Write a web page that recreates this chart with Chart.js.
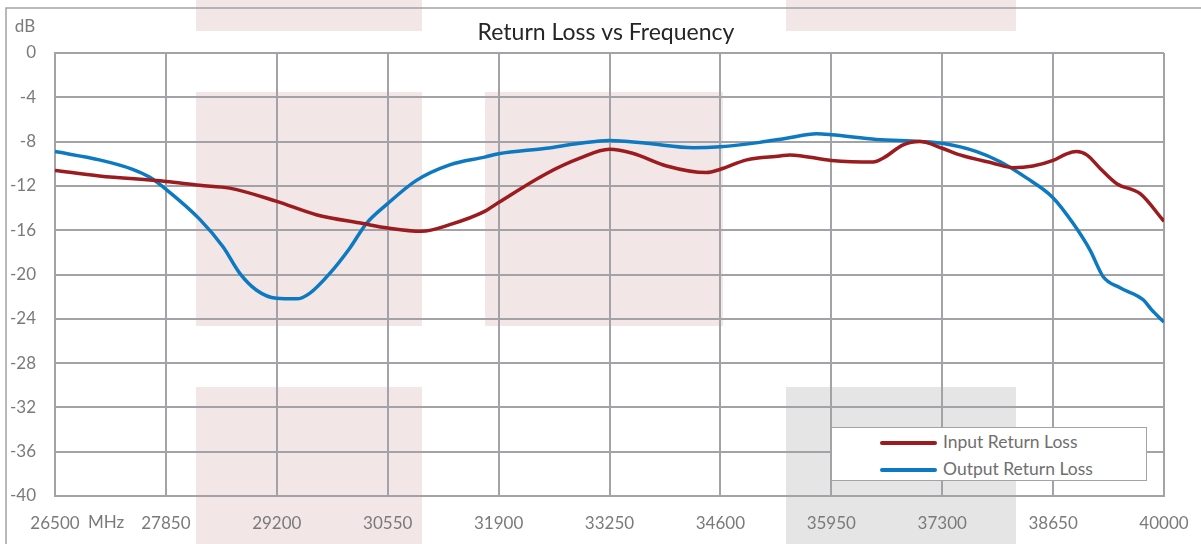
<!DOCTYPE html>
<html>
<head>
<meta charset="utf-8">
<script src="https://cdn.jsdelivr.net/npm/chart.js@4/dist/chart.umd.min.js"></script>
<style>
  html, body { margin: 0; padding: 0; background: #ffffff; }
  #wrap { position: relative; width: 1201px; height: 544px; overflow: hidden; background: #ffffff; }
  .band { position: absolute; }
  .pink { background: #F2E6E7; }
  .gray { background: #E5E5E5; }
  canvas { position: absolute; left: 0; top: 0; }
  #legend {
    position: absolute; left: 831px; top: 427px; width: 316px; height: 54px;
    background: #ffffff; border: 1.5px solid #A3A3A7; box-sizing: border-box;
    font-family: Lato, "Open Sans", sans-serif; font-size: 17.5px; color: #6f6f6f;
  }
  .item { position: absolute; left: 48px; height: 20px; line-height: 20px; white-space: nowrap; }
  .sw { display: inline-block; width: 57px; height: 4px; border-radius: 2px; vertical-align: middle; margin-right: 6px; position: relative; top: -1px; }
</style>
</head>
<body>
<div id="wrap">
  <div class="band pink" style="left:196px;top:0;width:226px;height:31px"></div>
  <div class="band pink" style="left:786px;top:0;width:230px;height:31px"></div>
  <div class="band pink" style="left:196px;top:92px;width:226px;height:234px"></div>
  <div class="band pink" style="left:485px;top:92px;width:238px;height:234px"></div>
  <div class="band pink" style="left:196px;top:387px;width:226px;height:157px"></div>
  <div class="band gray" style="left:786px;top:387px;width:230px;height:157px"></div>
  <canvas id="c" width="1201" height="544"></canvas>
  <div id="legend">
    <div class="item" style="top:4px"><span class="sw" style="background:#9B1B1F"></span><span id="l0"></span></div>
    <div class="item" style="top:31px"><span class="sw" style="background:#0C79C0"></span><span id="l1"></span></div>
  </div>
</div>
<script>
// ---- data ----
const seriesNames = ["Input Return Loss", "Output Return Loss"];
const xTicks = [26500, 27850, 29200, 30550, 31900, 33250, 34600, 35950, 37300, 38650, 40000];
const yTicks = [0, -4, -8, -12, -16, -20, -24, -28, -32, -36, -40];

const inputFreq = [26500, 27040, 27850, 28260, 28625, 29200, 29680, 30250, 30550, 30960, 31305, 31730, 31900,
  32480, 32890, 33250, 33530, 33945, 34430, 34600, 34920, 35325, 35445, 35950, 36460, 36580, 36825, 37030,
  37300, 37515, 37920, 38160, 38405, 38650, 38815, 38935, 39060, 39220, 39425, 39710, 40000];
const inputLoss = [-10.6, -11.1, -11.6, -11.95, -12.2, -13.4, -14.6, -15.4, -15.8, -16.1, -15.5, -14.3, -13.5,
  -10.9, -9.5, -8.7, -9.05, -10.2, -10.8, -10.5, -9.65, -9.3, -9.2, -9.7, -9.85, -9.5, -8.3, -8.0,
  -8.6, -9.2, -9.95, -10.35, -10.2, -9.7, -9.1, -8.9, -9.2, -10.4, -11.8, -12.7, -15.2];

const outputFreq = [26500, 27040, 27445, 27650, 27850, 28260, 28545, 28750, 28950, 29195, 29440, 29600, 29845,
  30090, 30290, 30550, 30900, 31305, 31730, 31900, 32480, 32890, 33250, 33700, 34270, 34600, 35080, 35405,
  35770, 35950, 36500, 37030, 37300, 37720, 38000, 38330, 38640, 38895, 39100, 39260, 39465, 39750, 39850, 40000];
const outputLoss = [-8.9, -9.65, -10.5, -11.2, -12.3, -15.0, -17.5, -19.9, -21.4, -22.15, -22.2, -21.7, -19.9,
  -17.6, -15.4, -13.6, -11.5, -10.1, -9.4, -9.1, -8.6, -8.15, -7.9, -8.15, -8.55, -8.46, -8.07, -7.7,
  -7.3, -7.38, -7.8, -7.98, -8.15, -8.9, -9.8, -11.3, -13.0, -15.4, -17.8, -20.2, -21.2, -22.3, -23.2, -24.3];

const titleText = "Return Loss vs Frequency";
const yUnit = "dB";
const xUnit = "MHz";

document.getElementById('l0').textContent = seriesNames[0];
document.getElementById('l1').textContent = seriesNames[1];

const FONT = "Lato, 'Open Sans', sans-serif";
const GRID = '#A3A3A7';
const TICKC = '#7a7a7a';

const decor = {
  id: 'decor',
  beforeDraw(chart) {
    const ctx = chart.ctx;
    ctx.save();
    ctx.strokeStyle = '#A3A3A7';
    ctx.lineWidth = 1.5;
    ctx.beginPath();
    ctx.moveTo(6, 545); ctx.lineTo(6, 8); ctx.lineTo(1201, 8);
    ctx.stroke();
    ctx.restore();
  },
  afterDraw(chart) {
    const ctx = chart.ctx;
    const xs = chart.scales.x;
    ctx.save();
    ctx.fillStyle = '#262626';
    ctx.font = "23px " + FONT;
    ctx.textBaseline = 'middle';
    ctx.textAlign = 'center';
    ctx.fillText(titleText, 606, 33);
    ctx.fillStyle = TICKC;
    ctx.font = "17px " + FONT;
    ctx.textAlign = 'left';
    ctx.fillText(xUnit, xs.getPixelForValue(xTicks[0]) + 33, 523);
    ctx.textAlign = 'center';
    ctx.fillText(yUnit, 25, 27);
    ctx.restore();
  }
};

function toPts(xs, ys) { return xs.map((x, i) => ({ x: x, y: ys[i] })); }

new Chart(document.getElementById('c'), {
  type: 'line',
  data: {
    datasets: [
      { label: seriesNames[0], data: toPts(inputFreq, inputLoss), borderColor: '#9B1B1F', borderWidth: 3.5,
        pointRadius: 0, cubicInterpolationMode: 'monotone', fill: false },
      { label: seriesNames[1], data: toPts(outputFreq, outputLoss), borderColor: '#0C79C0', borderWidth: 3.5,
        pointRadius: 0, cubicInterpolationMode: 'monotone', fill: false }
    ]
  },
  options: {
    responsive: false,
    animation: false,
    devicePixelRatio: 1,
    layout: { padding: { left: 0, right: 37, top: 53, bottom: 0 } },
    plugins: {
      legend: { display: false },
      tooltip: { enabled: false },
      title: { display: false }
    },
    scales: {
      x: {
        type: 'linear', min: xTicks[0], max: xTicks[xTicks.length - 1],
        afterBuildTicks(s) { s.ticks = xTicks.map(v => ({ value: v })); },
        afterFit(s) { s.height = 48; s.paddingLeft = 0; s.paddingRight = 0; },
        grid: { color: GRID, lineWidth: 2, drawTicks: false },
        border: { color: GRID, width: 2 },
        ticks: { autoSkip: false, maxRotation: 0, padding: 17, color: TICKC,
          font: { family: FONT, size: 17 }, callback: v => String(v) }
      },
      y: {
        type: 'linear', min: yTicks[yTicks.length - 1], max: yTicks[0],
        afterBuildTicks(s) { s.ticks = yTicks.slice().reverse().map(v => ({ value: v })); },
        afterFit(s) { s.width = 55; s.paddingTop = 0; s.paddingBottom = 0; },
        grid: { color: GRID, lineWidth: 2, drawTicks: false },
        border: { color: GRID, width: 2 },
        ticks: { padding: 19, color: TICKC, font: { family: FONT, size: 17 }, callback: v => String(v) }
      }
    }
  },
  plugins: [decor]
});
</script>
</body>
</html>
